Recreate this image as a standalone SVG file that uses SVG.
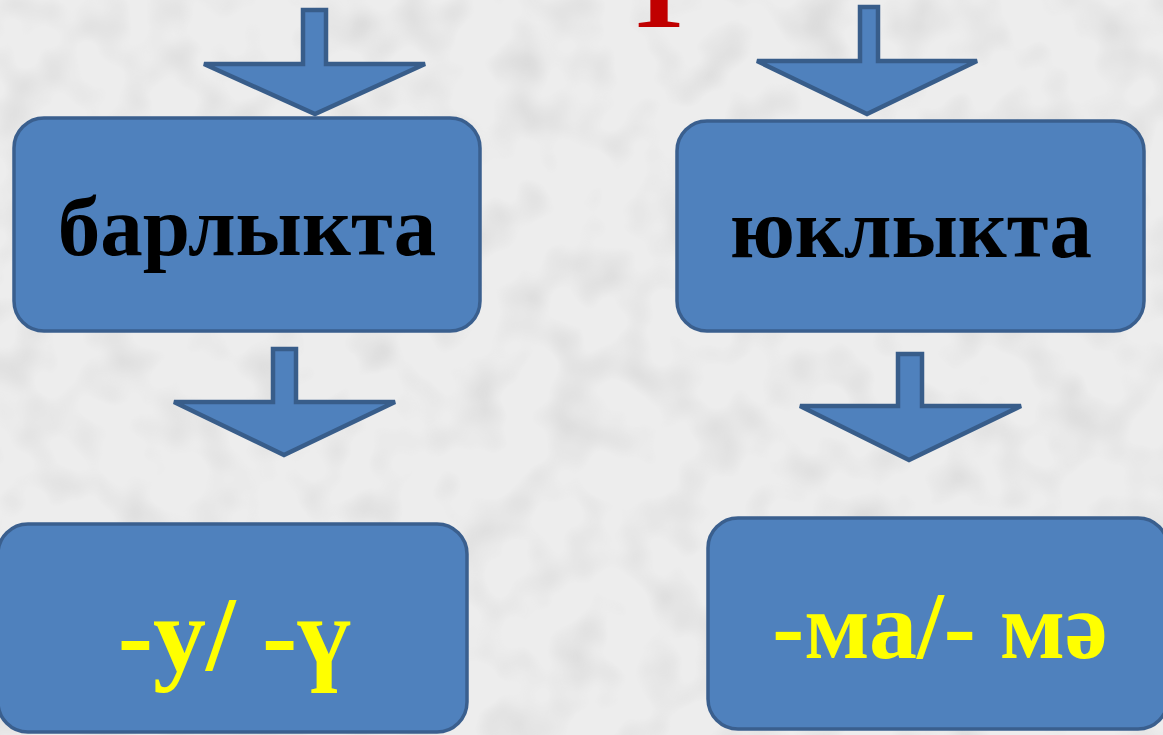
<svg xmlns="http://www.w3.org/2000/svg" width="1163" height="735" viewBox="0 0 1163 735">
<defs>
<filter id="tex" x="0" y="0" width="100%" height="100%">
<feTurbulence type="fractalNoise" baseFrequency="0.02" numOctaves="2" seed="7" result="n"/>
<feColorMatrix in="n" type="matrix" values="0 0 0 0 0  0 0 0 0 0  0 0 0 0 0  0.7 0 0 0 -0.32" result="a"/>
<feFlood flood-color="#a8a8a8"/>
<feComposite in2="a" operator="in" result="d"/>
<feMerge><feMergeNode in="SourceGraphic"/><feMergeNode in="d"/></feMerge>
</filter>
<style>
.box{fill:#4F81BD;stroke:#3A5F8E;stroke-width:3.5}
.arr{fill:#4F81BD;stroke:#385D8A;stroke-width:4.5;stroke-linejoin:miter}
.lbl{font-family:"Liberation Serif","Times New Roman",serif;font-weight:bold;text-anchor:middle}
.blk{fill:#000}
.yel{fill:#FFFF00}
</style>
</defs>
<rect width="1163" height="735" fill="#ededed" filter="url(#tex)"/>
<text x="659" y="27" class="lbl" style="font-size:112px" fill="#C00000">Т</text>
<g id="connectors">
<polygon class="arr" points="303,10 326,10 326,64 425,64 315,114 204,64 303,64"/>
<polygon class="arr" points="273,349 296,349 296,402 395,402 284,455 174,402 273,402"/>
<polygon class="arr" points="860,7 878,7 878,61 977,61 867,114 757,61 860,61"/>
<polygon class="arr" points="898,354 922,354 922,406 1021,406 909,460 800,406 898,406"/>
</g>
<g id="node-barlykta">
<rect class="box" x="14" y="118" width="466" height="213" rx="30"/>
<text x="247" y="255" class="lbl blk" style="font-size:85px">барлыкта</text>
</g>
<g id="node-yuklykta">
<rect class="box" x="677" y="121" width="467" height="210" rx="30"/>
<text x="911" y="257" class="lbl blk" style="font-size:85px">юклыкта</text>
</g>
<g id="node-u">
<rect class="box" x="-2" y="524" width="469" height="208" rx="30"/>
<text x="234" y="670" class="lbl yel" style="font-size:106px">-у/ -ү</text>
</g>
<g id="node-ma">
<rect class="box" x="708" y="518" width="460" height="211" rx="30"/>
<text x="940" y="658" class="lbl yel" style="font-size:96px">-ма/- мә</text>
</g>
</svg>
